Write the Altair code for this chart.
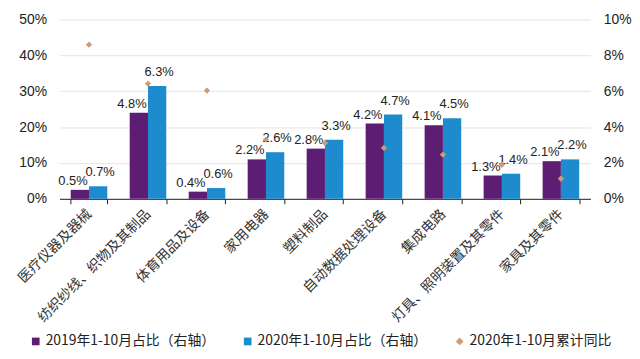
import altair as alt
import pandas as pd

categories = ["医疗仪器及器械", "纺织纱线、织物及其制品", "体育用品及设备", "家用电器", "塑料制品",
              "自动数据处理设备", "集成电路", "灯具、照明装置及其零件", "家具及其零件"]
share_2019 = [0.5, 4.8, 0.4, 2.2, 2.8, 4.2, 4.1, 1.3, 2.1]
share_2020 = [0.7, 6.3, 0.6, 2.6, 3.3, 4.7, 4.5, 1.4, 2.2]
yoy_2020 = [43.0, 32.1, 30.2, 16.5, 15.6, 14.2, 12.3, 9.5, 5.6]

s19 = "2019年1-10月占比（右轴）"
s20 = "2020年1-10月占比（右轴）"
syoy = "2020年1-10月累计同比"
series_domain = [s19, s20, syoy]
colors = ["#5C1D72", "#1E8BCF", "#D39A72"]

bars_df = pd.DataFrame(
    [{"cat": c, "series": s19, "value": v} for c, v in zip(categories, share_2019)]
    + [{"cat": c, "series": s20, "value": v} for c, v in zip(categories, share_2020)]
)
bars_df["label"] = bars_df["value"].map(lambda v: f"{v:.1f}%")
yoy_df = pd.DataFrame({"cat": categories, "series": syoy, "value": yoy_2020})

num_font = "Liberation Sans"
cjk_font = "Noto Sans CJK SC"

x_enc = alt.X(
    "cat:N", sort=categories, title=None,
    scale=alt.Scale(paddingInner=0.38, paddingOuter=0.19),
    axis=alt.Axis(labelAngle=-45, labelAlign="right", labelBaseline="middle",
                  labelFont=cjk_font, labelFontSize=14, labelColor="#333",
                  labelPadding=8, tickBand="extent", tickSize=5, tickColor="#222",
                  domainColor="#222", labelLimit=300, grid=False),
)
xoff = alt.XOffset("series:N", sort=[s19, s20], scale=alt.Scale(paddingInner=0, paddingOuter=0))

legend_cfg = alt.Legend(title=None, orient="none", direction="horizontal", legendX=-31, legendY=318,
                        labelFont=cjk_font, labelFontSize=14, labelColor="#222",
                        symbolSize=60, symbolStrokeWidth=0, labelOffset=3, columnPadding=25,
                        labelLimit=400)

right_scale = alt.Scale(domain=[0, 10], nice=False)

bars = alt.Chart(bars_df).mark_bar().encode(
    x=x_enc, xOffset=xoff,
    y=alt.Y("value:Q", scale=right_scale, title=None,
            axis=alt.Axis(orient="right", values=[0, 2, 4, 6, 8, 10], labelExpr="datum.value + '%'",
                          grid=False, domain=False, ticks=False, labelPadding=13,
                          labelFont=num_font, labelFontSize=14, labelColor="#222")),
    color=alt.Color("series:N", scale=alt.Scale(domain=series_domain, range=colors), legend=legend_cfg),
)

text19 = alt.Chart(bars_df).transform_filter(alt.datum.series == s19).mark_text(
    font=num_font, fontSize=13, color="#222", dy=-9, dx=-7, baseline="middle").encode(
    x=x_enc, xOffset=xoff,
    y=alt.Y("value:Q", scale=right_scale, axis=None),
    text="label:N",
)
text20 = alt.Chart(bars_df).transform_filter(alt.datum.series == s20).mark_text(
    font=num_font, fontSize=13, color="#222", dy=-14, dx=2, baseline="middle").encode(
    x=x_enc, xOffset=xoff,
    y=alt.Y("value:Q", scale=right_scale, axis=None),
    text="label:N",
)

points = alt.Chart(yoy_df).mark_point(filled=True, size=40, opacity=1).encode(
    x=x_enc,
    y=alt.Y("value:Q", scale=alt.Scale(domain=[0, 50], nice=False), title=None,
            axis=alt.Axis(orient="left", values=[0, 10, 20, 30, 40, 50], labelExpr="datum.value + '%'",
                          grid=True, gridColor="#e4e4e4", domain=False, ticks=False, labelPadding=13,
                          labelFont=num_font, labelFontSize=14, labelColor="#222")),
    color=alt.Color("series:N", scale=alt.Scale(domain=series_domain, range=colors), legend=legend_cfg),
    shape=alt.Shape("series:N", scale=alt.Scale(domain=series_domain, range=["square", "square", "diamond"]),
                    legend=legend_cfg),
)

chart = alt.layer(bars, text19, text20, points).resolve_scale(y="independent").properties(
    width=630, height=344,
    autosize=alt.AutoSizeParams(type="fit", contains="padding"),
    padding={"left": 10, "top": 3, "right": 0, "bottom": 26},
    background="white",
).configure_view(stroke=None)

chart.save("out.html", embed_options={"renderer": "svg", "actions": False})
